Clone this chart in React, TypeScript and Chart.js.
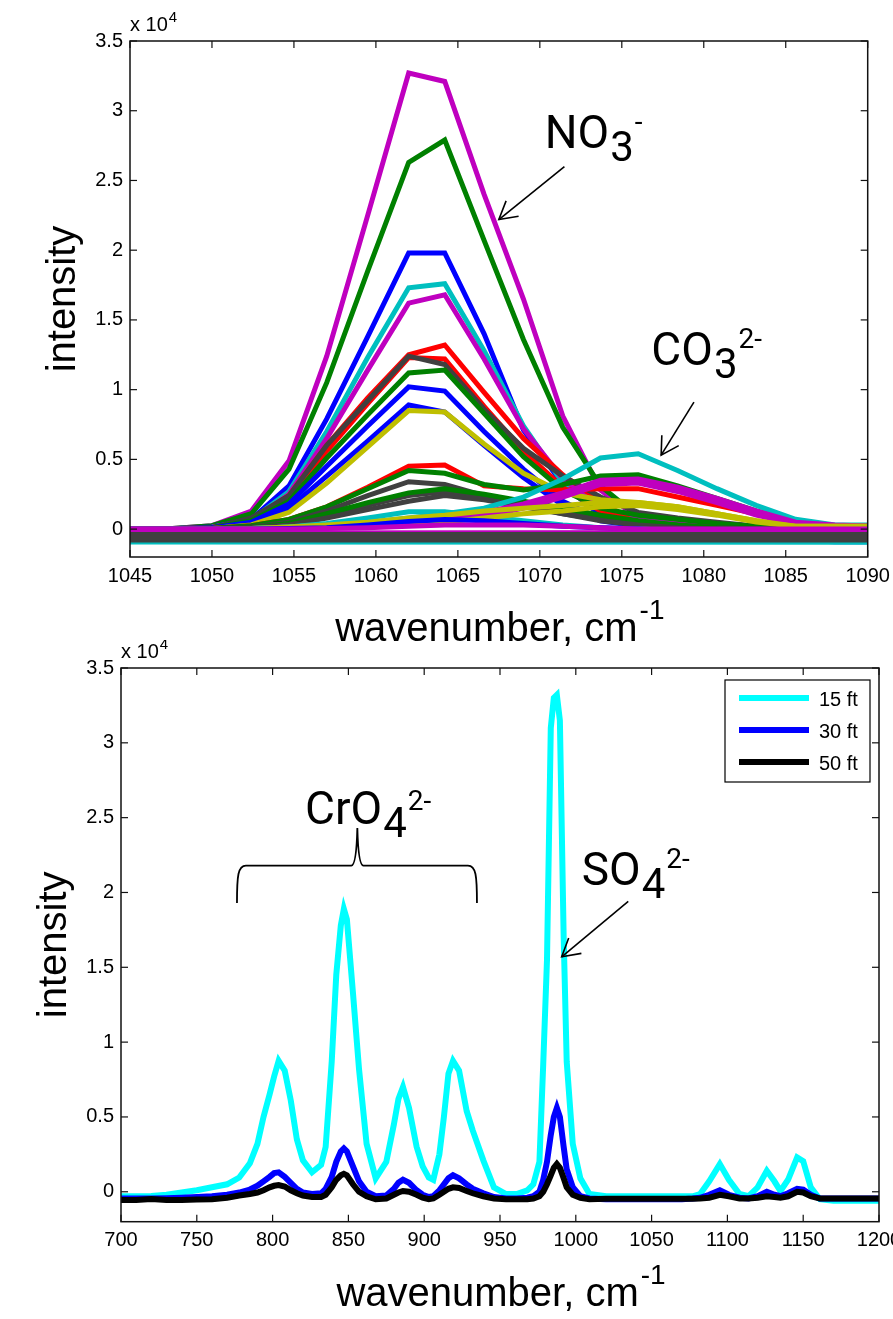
import React, { useEffect, useRef } from "react";
import { Chart, registerables } from "chart.js";

Chart.register(...registerables);

const AXIS_FONT = '"Liberation Sans", Arial, Helvetica, sans-serif';
const NOTE_FONT = 'Roboto, "Noto Sans", sans-serif';

// MATLAB (pre-2014) colour order
const BLUE = "#0000ff";
const GREEN = "#008000";
const RED = "#ff0000";
const CYAN = "#00bfbf";
const MAGENTA = "#bf00bf";
const YELLOW = "#bfbf00";
const GRAY = "#404040";

// ---------------- top panel ----------------
const topWavenumbers = [1045.0, 1047.6, 1050.0, 1052.4, 1054.7, 1057.0, 1059.5, 1062.0, 1064.2, 1066.6, 1069.0, 1071.4, 1073.7, 1076.0, 1078.4, 1080.8, 1083.2, 1085.6, 1088.0, 1090.4];
const topTickValues = [1045, 1050, 1055, 1060, 1065, 1070, 1075, 1080, 1085, 1090];
const intensityTicks = [0, 5000, 10000, 15000, 20000, 25000, 30000, 35000];

const s01 = [0, 50, 250, 1300, 4900, 12400, 22500, 32700, 32100, 24000, 16500, 8100, 2800, 800, 300, 100, 0, 0, 0, 0];
const s02 = [0, 50, 250, 1100, 4300, 10500, 18500, 26300, 27900, 20700, 13600, 7300, 3100, 900, 600, 400, 200, 100, 0, 0];
const s03 = [0, 30, 150, 700, 3100, 7900, 13800, 19800, 19800, 14000, 7100, 3200, 1000, 300, 100, 0, 0, 0, 0, 0];
const s04 = [0, 30, 130, 650, 2700, 7000, 12300, 17300, 17600, 12800, 7400, 3300, 1400, 700, 300, 100, 0, 0, 0, 0];
const s05 = [0, 30, 130, 600, 2500, 6500, 11400, 16200, 16800, 12200, 7200, 3600, 1600, 800, 400, 100, 0, 0, 0, 0];
const s06 = [0, 20, 100, 700, 2400, 6000, 9400, 12500, 13200, 9800, 6500, 3900, 2000, 300, 100, 0, 0, 0, 0, 0];
const s07 = [0, 20, 100, 600, 2200, 5600, 9000, 12300, 12200, 8800, 5600, 3000, 1300, 400, 200, 0, 0, 0, 0, 0];
const s08 = [0, 20, 100, 800, 2400, 6000, 9200, 12400, 11800, 8600, 5800, 3800, 2300, 1200, 800, 500, 200, 0, 0, 0];
const s09 = [0, 20, 100, 600, 2000, 5100, 8200, 11200, 11400, 8300, 5200, 2800, 1500, 1000, 700, 400, 200, 0, 0, 0];
const s10 = [0, 20, 80, 500, 1800, 4500, 7400, 10200, 9900, 7000, 4300, 2000, 700, 200, 0, 0, 0, 0, 0, 0];
const s11 = [0, 20, 80, 400, 1500, 3800, 6300, 8900, 8400, 6000, 3700, 1700, 600, 200, 0, 0, 0, 0, 0, 0];
const s12 = [0, 10, 50, 300, 1200, 3300, 5900, 8500, 8400, 6100, 4000, 2600, 2100, 1900, 1600, 1100, 600, 200, 200, 200];
const s13 = [0, 0, 50, 250, 700, 1600, 3000, 4500, 4600, 3100, 2900, 2800, 2900, 2900, 2300, 1700, 1100, 500, 200, 100];
const s14 = [0, 0, 50, 250, 700, 1600, 2900, 4200, 4000, 3200, 2800, 3200, 3800, 3900, 3100, 2200, 1300, 500, 200, 100];
const s15 = [0, 0, 30, 150, 500, 1300, 2400, 3400, 3200, 2400, 1700, 1100, 700, 400, 200, 100, 0, 0, 0, 0];
const s16 = [0, 0, 30, 120, 400, 1000, 1700, 2400, 2700, 2200, 1700, 1200, 800, 500, 300, 100, 0, 0, 0, 0];
const s17 = [0, 0, 30, 120, 400, 1100, 1900, 2600, 2900, 2500, 2000, 1500, 1000, 600, 300, 100, 0, 0, 0, 0];
const s18 = [0, 0, 20, 100, 300, 800, 1400, 2000, 2400, 2100, 1600, 1100, 600, 300, 100, 0, 0, 0, 0, 0];
const s19 = [0, 0, 0, 50, 150, 400, 800, 1250, 1250, 900, 600, 300, 100, 0, -100, -100, -100, -100, -100, -100];
const s20 = [0, 0, 0, 50, 150, 300, 500, 800, 1100, 1500, 2300, 3600, 5100, 5400, 4200, 2900, 1700, 700, 300, 300];
const s21 = [0, 0, 0, 0, 100, 200, 300, 500, 700, 1200, 1800, 2600, 3500, 3600, 3000, 2200, 1300, 500, 300, 200];
const s22 = [0, 0, 0, 0, 50, 100, 200, 300, 500, 900, 1500, 2300, 3200, 3300, 2700, 1900, 1000, 400, 200, 200];
const s23 = [0, 0, 0, 50, 150, 300, 500, 800, 1000, 1300, 1500, 1700, 1900, 1900, 1600, 1100, 600, 200, 200, 200];
const s24 = [0, 0, 0, 0, 50, 100, 200, 300, 500, 800, 1100, 1300, 1600, 1700, 1400, 1000, 500, 200, 200, 200];
const s25 = [0, 0, 0, 0, 50, 100, 300, 550, 680, 600, 400, 200, 100, 0, -200, -400, -600, -800, -900, -900];
const s26 = [0, 0, 0, 0, 0, 50, 100, 200, 300, 300, 300, 200, 100, 0, 0, 0, 0, 0, 0, 0];

const baselineWavenumbers = [1045.0, 1090.4];
const b01 = [-280, -250];
const b02 = [-380, -380];
const b03 = [-520, -520];
const b04 = [-650, -650];
const b05 = [-780, -780];
const b06 = [-920, -950];

const topSpectra = [
  { values: s01, color: MAGENTA },
  { values: s02, color: GREEN },
  { values: s03, color: BLUE },
  { values: s04, color: CYAN },
  { values: s05, color: MAGENTA },
  { values: s06, color: RED },
  { values: s07, color: RED },
  { values: s08, color: GRAY },
  { values: s09, color: GREEN },
  { values: s10, color: BLUE },
  { values: s11, color: BLUE },
  { values: s12, color: YELLOW },
  { values: s13, color: RED },
  { values: s14, color: GREEN },
  { values: s15, color: GRAY },
  { values: s16, color: GRAY },
  { values: s17, color: GREEN },
  { values: s18, color: GRAY },
  { values: s19, color: CYAN },
  { values: s20, color: CYAN },
  { values: s21, color: MAGENTA },
  { values: s22, color: MAGENTA },
  { values: s23, color: YELLOW },
  { values: s24, color: YELLOW },
  { values: s25, color: BLUE },
  { values: s26, color: MAGENTA },
  { values: b06, color: CYAN, x: baselineWavenumbers },
  { values: b01, color: MAGENTA, x: baselineWavenumbers },
  { values: b02, color: GRAY, x: baselineWavenumbers },
  { values: b03, color: GRAY, x: baselineWavenumbers },
  { values: b04, color: GRAY, x: baselineWavenumbers },
  { values: b05, color: GRAY, x: baselineWavenumbers },
];

// annotation anchors (data coordinates)
const no3Label = [1070.3, 27300];
const no3Arrow = [1071.5, 26000, 1067.5, 22200];
const co3Label = [1076.8, 11800];
const co3Arrow = [1079.4, 9100, 1077.4, 5300];

// ---------------- bottom panel ----------------
const bottomWavenumbers = [700, 710, 720, 730, 740, 750, 760, 770, 778, 785, 790, 794, 798, 801, 804, 808, 812, 816, 820, 826, 832, 835, 839, 842, 845, 847, 849, 853, 857, 862, 868, 875, 880, 883, 886, 890, 895, 899, 903, 906, 910, 913, 916, 919, 923, 928, 932, 939, 946, 954, 961, 968, 972, 976, 978.5, 981, 983.5, 985.5, 987.5, 989.5, 992, 994, 998, 1003, 1009, 1020, 1030, 1040, 1050, 1060, 1070, 1077, 1082, 1088, 1095, 1101, 1108, 1114, 1120, 1126, 1131, 1135, 1140, 1146, 1150, 1155, 1161, 1170, 1180, 1190, 1200];
const bottomTickValues = [700, 750, 800, 850, 900, 950, 1000, 1050, 1100, 1150, 1200];
const depthLabels = ["15 ft", "30 ft", "50 ft"];
const depthColors = ["#00ffff", "#0000ff", "#000000"];

const ft15 = [-300, -300, -280, -200, -50, 100, 300, 500, 950, 1900, 3200, 5000, 6500, 7700, 8750, 8100, 6100, 3500, 2100, 1300, 1800, 3000, 8700, 14500, 17800, 18900, 18200, 13300, 8200, 3200, 900, 2000, 4500, 6200, 7000, 5600, 3000, 1700, 950, 800, 2500, 5000, 7900, 8750, 8100, 5400, 4100, 2100, 300, -150, -150, 100, 500, 2000, 8500, 15500, 31000, 33000, 33200, 31500, 17000, 8700, 3200, 900, -150, -300, -300, -300, -300, -300, -300, -300, -150, 700, 1850, 800, -150, -300, 300, 1400, 700, 50, 800, 2300, 2050, 300, -500, -600, -600, -600, -600];
const ft30 = [-450, -450, -450, -430, -400, -350, -300, -200, -50, 150, 400, 700, 1000, 1250, 1300, 1000, 600, 200, -50, -150, -100, 200, 1000, 2000, 2700, 2900, 2700, 1700, 700, 0, -300, -250, 200, 600, 800, 600, 100, -200, -350, -300, 100, 500, 900, 1100, 900, 500, 200, -100, -350, -450, -450, -400, -300, 0, 800, 2000, 3800, 5000, 5600, 5000, 3000, 1500, 300, -300, -450, -500, -500, -500, -500, -500, -500, -450, -400, -200, 100, -200, -400, -450, -300, 0, -200, -300, -100, 200, 150, -200, -450, -450, -450, -450, -450];
const ft50 = [-550, -550, -480, -550, -550, -520, -500, -400, -250, -150, -50, 100, 300, 400, 450, 350, 100, -100, -250, -350, -350, -200, 300, 800, 1100, 1200, 1100, 500, 0, -300, -500, -450, -200, -50, 50, 0, -200, -400, -500, -450, -200, 0, 200, 300, 250, 50, -100, -300, -450, -500, -500, -500, -450, -300, 0, 500, 1100, 1600, 1850, 1600, 900, 300, -200, -400, -500, -470, -470, -470, -470, -470, -470, -470, -450, -400, -200, -300, -450, -450, -400, -300, -350, -400, -300, 0, -50, -300, -450, -450, -450, -450, -450];
const depthSeries = [ft15, ft30, ft50];

const cro4Label = [821.4, 24600];
const cro4Brace = { left: 776.5, right: 934.8, mid: 855.9, bar: 21800, ends: 19300, tip: 24300 };
const so4Label = [1003.9, 20500];
const so4Arrow = [1034.6, 19400, 990.7, 15700];

// ---------------- drawing helpers ----------------
type Part = { t: string; size: number; dy: number };

function line(ctx: CanvasRenderingContext2D, x1: number, y1: number, x2: number, y2: number) {
  ctx.beginPath();
  ctx.moveTo(x1, y1);
  ctx.lineTo(x2, y2);
  ctx.stroke();
}

function drawFrame(chart: any, xTicks: number[], yTicks: number[]) {
  const { ctx, chartArea: a, scales } = chart;
  ctx.save();
  ctx.strokeStyle = "#111";
  ctx.lineWidth = 1.5;
  ctx.strokeRect(a.left, a.top, a.right - a.left, a.bottom - a.top);
  ctx.lineWidth = 1.2;
  const L = 7;
  for (const v of xTicks) {
    const x = scales.x.getPixelForValue(v);
    line(ctx, x, a.bottom, x, a.bottom - L);
    line(ctx, x, a.top, x, a.top + L);
  }
  for (const v of yTicks) {
    const y = scales.y.getPixelForValue(v);
    line(ctx, a.left, y, a.left + L, y);
    line(ctx, a.right, y, a.right - L, y);
  }
  ctx.restore();
}

function drawAxisTexts(chart: any) {
  const { ctx, chartArea: a } = chart;
  ctx.save();
  ctx.fillStyle = "#000";
  ctx.textBaseline = "alphabetic";
  ctx.textAlign = "left";
  // multiplier
  ctx.font = `20px ${AXIS_FONT}`;
  ctx.fillText("x 10", a.left, a.top - 10);
  const mw = ctx.measureText("x 10").width;
  ctx.font = `15px ${AXIS_FONT}`;
  ctx.fillText("4", a.left + mw + 1, a.top - 19);
  // x title
  ctx.font = `40px ${AXIS_FONT}`;
  const w1 = ctx.measureText("wavenumber, cm").width;
  ctx.font = `28px ${AXIS_FONT}`;
  const w2 = ctx.measureText("-1").width;
  const x0 = (a.left + a.right) / 2 - (w1 + w2) / 2;
  const yb = a.bottom + 84;
  ctx.font = `40px ${AXIS_FONT}`;
  ctx.fillText("wavenumber, cm", x0, yb);
  ctx.font = `28px ${AXIS_FONT}`;
  ctx.fillText("-1", x0 + w1 + 2, yb - 22);
  // y title
  ctx.translate(a.left - 55, (a.top + a.bottom) / 2);
  ctx.rotate(-Math.PI / 2);
  ctx.textAlign = "center";
  ctx.font = `40px ${AXIS_FONT}`;
  ctx.fillText("intensity", 0, 0);
  ctx.restore();
}

function drawFormula(chart: any, at: number[], parts: Part[]) {
  const { ctx, scales } = chart;
  const x = scales.x.getPixelForValue(at[0]);
  const y = scales.y.getPixelForValue(at[1]);
  ctx.save();
  ctx.fillStyle = "#000";
  ctx.textBaseline = "alphabetic";
  ctx.textAlign = "left";
  let cx = x;
  for (const p of parts) {
    ctx.font = `${p.size}px ${NOTE_FONT}`;
    ctx.fillText(p.t, cx, y + p.dy);
    cx += ctx.measureText(p.t).width + 1;
  }
  ctx.restore();
}

function drawArrow(chart: any, arr: number[]) {
  const { ctx, scales } = chart;
  const x1 = scales.x.getPixelForValue(arr[0]);
  const y1 = scales.y.getPixelForValue(arr[1]);
  const x2 = scales.x.getPixelForValue(arr[2]);
  const y2 = scales.y.getPixelForValue(arr[3]);
  ctx.save();
  ctx.strokeStyle = "#000";
  ctx.lineWidth = 1.6;
  line(ctx, x1, y1, x2, y2);
  const ang = Math.atan2(y2 - y1, x2 - x1);
  const h = 20;
  const sp = 0.52;
  ctx.beginPath();
  ctx.moveTo(x2 - h * Math.cos(ang - sp), y2 - h * Math.sin(ang - sp));
  ctx.lineTo(x2, y2);
  ctx.lineTo(x2 - h * Math.cos(ang + sp), y2 - h * Math.sin(ang + sp));
  ctx.stroke();
  ctx.restore();
}

function drawBrace(chart: any) {
  const { ctx, scales } = chart;
  const L = scales.x.getPixelForValue(cro4Brace.left);
  const R = scales.x.getPixelForValue(cro4Brace.right);
  const C = scales.x.getPixelForValue(cro4Brace.mid);
  const H = scales.y.getPixelForValue(cro4Brace.bar);
  const B = scales.y.getPixelForValue(cro4Brace.ends);
  const T = scales.y.getPixelForValue(cro4Brace.tip);
  ctx.save();
  ctx.strokeStyle = "#000";
  ctx.lineWidth = 1.8;
  ctx.beginPath();
  ctx.moveTo(L, B);
  ctx.bezierCurveTo(L, H + 10, L + 1, H, L + 9, H);
  ctx.lineTo(C - 6, H);
  ctx.quadraticCurveTo(C - 1, H, C, T);
  ctx.quadraticCurveTo(C + 1, H, C + 6, H);
  ctx.lineTo(R - 9, H);
  ctx.bezierCurveTo(R - 1, H, R, H + 10, R, B);
  ctx.stroke();
  ctx.restore();
}

function drawLegend(chart: any) {
  const { ctx, chartArea: a } = chart;
  const bx = a.right - 154;
  const by = a.top + 12;
  const bw = 145;
  const bh = 102;
  ctx.save();
  ctx.fillStyle = "#fff";
  ctx.fillRect(bx, by, bw, bh);
  ctx.strokeStyle = "#000";
  ctx.lineWidth = 1.2;
  ctx.strokeRect(bx, by, bw, bh);
  chart.data.datasets.forEach((ds: any, i: number) => {
    const y = by + 18 + i * 32;
    ctx.strokeStyle = ds.borderColor;
    ctx.lineWidth = 6;
    line(ctx, bx + 14, y, bx + 84, y);
    ctx.fillStyle = "#000";
    ctx.font = `20px ${AXIS_FONT}`;
    ctx.textBaseline = "middle";
    ctx.textAlign = "left";
    ctx.fillText(ds.label, bx + 94, y + 2);
  });
  ctx.restore();
}

function xScale(min: number, max: number, ticks: number[], height: number) {
  return {
    type: "linear",
    min,
    max,
    afterBuildTicks: (ax: any) => {
      ax.ticks = ticks.map((v) => ({ value: v }));
    },
    afterFit: (ax: any) => {
      ax.height = height;
      ax.paddingLeft = 0;
      ax.paddingRight = 0;
      ax.paddingTop = 0;
      ax.paddingBottom = 0;
    },
    grid: { display: false, drawTicks: false },
    border: { display: false },
    ticks: {
      color: "#000",
      font: { size: 20, family: AXIS_FONT },
      padding: 7,
      maxRotation: 0,
      autoSkip: false,
      callback: (v: any) => String(v),
    },
  };
}

function yScale(width: number) {
  return {
    type: "linear",
    min: -2000,
    max: 35000,
    afterBuildTicks: (ax: any) => {
      ax.ticks = intensityTicks.map((v) => ({ value: v }));
    },
    afterFit: (ax: any) => {
      ax.width = width;
      ax.paddingLeft = 0;
      ax.paddingRight = 0;
      ax.paddingTop = 0;
      ax.paddingBottom = 0;
    },
    grid: { display: false, drawTicks: false },
    border: { display: false },
    ticks: {
      color: "#000",
      font: { size: 20, family: AXIS_FONT },
      padding: 7,
      autoSkip: false,
      callback: (v: any) => String(Number(v) / 10000),
    },
  };
}

function topConfig(): any {
  const n = topSpectra.length;
  return {
    type: "line",
    data: {
      datasets: topSpectra.map((s, i) => ({
        label: "s" + (i + 1),
        data: (s.x || topWavenumbers).map((x, j) => ({ x, y: s.values[j] })),
        borderColor: s.color,
        borderWidth: 5,
        pointRadius: 0,
        tension: 0,
        fill: false,
        order: n - i,
      })),
    },
    options: {
      animation: false,
      responsive: false,
      devicePixelRatio: 1,
      events: [],
      layout: { autoPadding: false, padding: { left: 0, right: 25.3, top: 41, bottom: 0 } },
      plugins: { legend: { display: false }, tooltip: { enabled: false }, title: { display: false } },
      scales: { x: xScale(1045, 1090, topTickValues, 98), y: yScale(130) },
    },
    plugins: [
      {
        id: "topDecor",
        afterDraw(chart: any) {
          drawFrame(chart, topTickValues, intensityTicks);
          drawAxisTexts(chart);
          drawFormula(chart, no3Label, [
            { t: "NO", size: 46, dy: 0 },
            { t: "3", size: 42, dy: 13 },
            { t: "-", size: 28, dy: -17 },
          ]);
          drawArrow(chart, no3Arrow);
          drawFormula(chart, co3Label, [
            { t: "CO", size: 46, dy: 0 },
            { t: "3", size: 42, dy: 13 },
            { t: "2-", size: 28, dy: -17 },
          ]);
          drawArrow(chart, co3Arrow);
        },
      },
    ],
  };
}

function bottomConfig(): any {
  const n = depthSeries.length;
  return {
    type: "line",
    data: {
      datasets: depthSeries.map((vals, i) => ({
        label: depthLabels[i],
        data: bottomWavenumbers.map((x, j) => ({ x, y: vals[j] })),
        borderColor: depthColors[i],
        borderWidth: 6,
        pointRadius: 0,
        tension: 0,
        fill: false,
        order: n - i,
      })),
    },
    options: {
      animation: false,
      responsive: false,
      devicePixelRatio: 1,
      events: [],
      layout: { autoPadding: false, padding: { left: 0, right: 14, top: 28, bottom: 0 } },
      plugins: { legend: { display: false }, tooltip: { enabled: false }, title: { display: false } },
      scales: { x: xScale(700, 1200, bottomTickValues, 97.3), y: yScale(121) },
    },
    plugins: [
      {
        id: "bottomDecor",
        afterDraw(chart: any) {
          drawFrame(chart, bottomTickValues, intensityTicks);
          drawAxisTexts(chart);
          drawFormula(chart, cro4Label, [
            { t: "CrO", size: 46, dy: 0 },
            { t: "4", size: 42, dy: 13 },
            { t: "2-", size: 28, dy: -14 },
          ]);
          drawBrace(chart);
          drawFormula(chart, so4Label, [
            { t: "SO", size: 46, dy: 0 },
            { t: "4", size: 42, dy: 13 },
            { t: "2-", size: 28, dy: -17 },
          ]);
          drawArrow(chart, so4Arrow);
          drawLegend(chart);
        },
      },
    ],
  };
}

function ChartCanvas({ top, height, build }: { top: number; height: number; build: () => any }) {
  const ref = useRef<HTMLCanvasElement>(null);
  useEffect(() => {
    const chart = new Chart(ref.current as HTMLCanvasElement, build());
    return () => chart.destroy();
  }, []);
  return (
    <canvas
      ref={ref}
      width={893}
      height={height}
      style={{ position: "absolute", left: 0, top, width: 893, height, display: "block" }}
    />
  );
}

export default function App() {
  return (
    <div style={{ position: "absolute", left: 0, top: 0, width: 893, height: 1319, overflow: "hidden", background: "#fff" }}>
      <ChartCanvas top={0} height={655} build={topConfig} />
      <ChartCanvas top={640} height={679} build={bottomConfig} />
    </div>
  );
}
